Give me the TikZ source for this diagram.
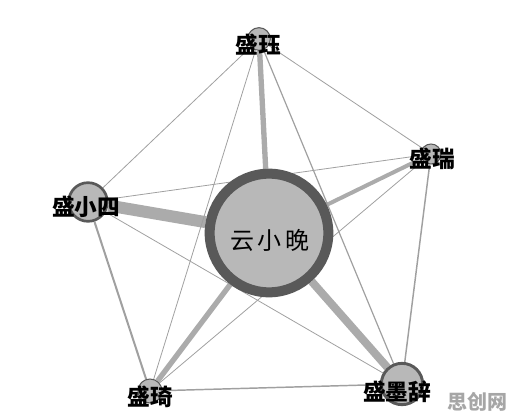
\documentclass[tikz,border=0pt]{standalone}
\usepackage{fontspec}
\newfontfamily\cjk{Noto Sans CJK SC}
\usepackage{tikz}
\usetikzlibrary{backgrounds}
\definecolor{ringgray}{HTML}{595959}
\definecolor{fillgray}{HTML}{B8B8B8}
\definecolor{edgegray}{HTML}{ABABAB}
\definecolor{thingray}{HTML}{A0A0A0}

\begin{document}
\begin{tikzpicture}[x=0.75pt,y=-0.75pt,
    person/.style={draw=ringgray, fill=fillgray, circle, inner sep=0pt},
    tag/.style={font=\cjk\bfseries\fontsize{17}{18}\selectfont, text=black, inner sep=0pt},
    tie/.style={draw=edgegray},
    weak/.style={draw=thingray, line width=0.6pt}]
            \useasboundingbox (0,0) rectangle (514,420);
            % character circles
            \node[person, line width=7.5pt, minimum size=89pt] (yun) at (269,233) {};
            \node[person, line width=0.8pt, minimum size=17pt] (jue) at (259,39) {};
            \node[person, line width=2pt, minimum size=29pt] (xiaosi) at (88,202) {};
            \node[person, line width=0.8pt, minimum size=15pt] (rui) at (431,154) {};
            \node[person, line width=0.8pt, minimum size=18pt] (qi) at (150,391) {};
            \node[person, line width=2.2pt, minimum size=31pt] (moci) at (402,384) {};
            
            % names
            \node[tag, font=\cjk\fontsize{18}{19}\selectfont] (yun-t) at (270,240) {云\,小\,晚};
            \node[tag] (jue-t) at (258,45) {盛珏};
            \node[tag] (xiaosi-t) at (86,207) {盛小四};
            \node[tag] (rui-t) at (432,159) {盛瑞};
            \node[tag] (qi-t) at (150,397) {盛琦};
            \node[tag] (moci-t) at (397,392) {盛墨辞};
            \node[font=\cjk\bfseries\fontsize{15}{16}\selectfont, text=gray!70] (mark) at (477,402) {思创网};
            
            \begin{scope}[on background layer]
            % ties to the centre
            \draw[tie, line width=4pt] (yun) -- (jue);
            \draw[tie, line width=9pt] (yun) -- (xiaosi);
            \draw[tie, line width=3pt] (yun) -- (rui);
            \draw[tie, line width=4pt] (yun) -- (qi);
            \draw[tie, line width=6pt] (yun) -- (moci);
            % outer ring and star
            \draw[weak] (jue) -- (xiaosi);
            \draw[weak] (jue) -- (rui);
            \draw[weak] (jue) -- (qi);
            \draw[weak, line width=0.9pt] (jue) -- (moci);
            \draw[weak] (xiaosi) -- (rui);
            \draw[weak, line width=1.5pt] (xiaosi) -- (qi);
            \draw[weak] (xiaosi) -- (moci);
            \draw[weak] (rui) -- (qi);
            \draw[weak, line width=1.1pt] (rui) -- (moci);
            \draw[weak, line width=1.1pt] (qi) -- (moci);
            \end{scope}
        \end{tikzpicture}
\end{document}
